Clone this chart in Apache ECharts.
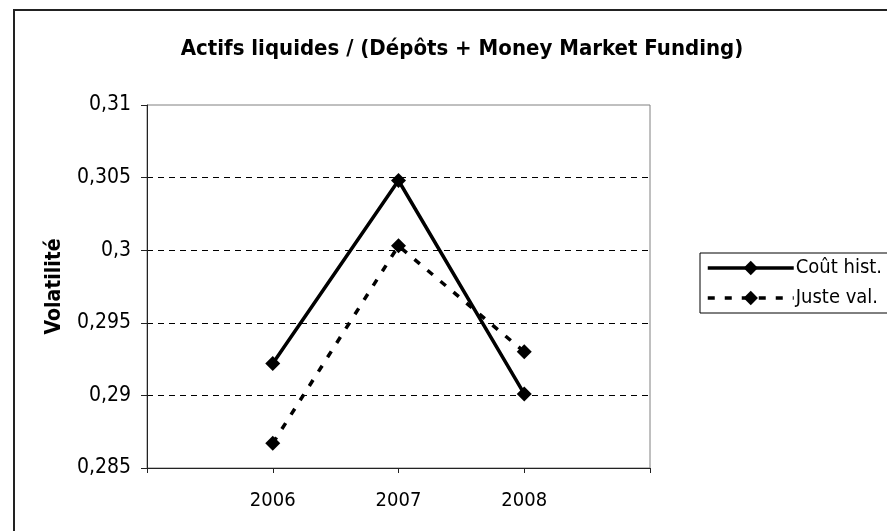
<!DOCTYPE html>
<html>
<head>
<meta charset="utf-8">
<script src="https://cdn.jsdelivr.net/npm/echarts@6/dist/echarts.min.js"></script>
<style>
  html, body { margin: 0; padding: 0; background: #fff; }
  #chart { width: 887px; height: 531px; }
</style>
</head>
<body>
<div id="chart"></div>
<script>
// données
const years = [2006, 2007, 2008]
const coutHist = [0.2922, 0.3048, 0.2901]
const justeVal = [0.2867, 0.3003, 0.2930]
const yTicks = [0.285, 0.29, 0.295, 0.3, 0.305, 0.31]

const FONT = '"DejaVu Sans Condensed", "DejaVu Sans", sans-serif'

const chart = echarts.init(document.getElementById('chart'))

function pairs(vals) {
  return years.map((y, i) => [y, vals[i]])
}

// virgule décimale
function fmtFr(v) {
  return String(+v.toFixed(4)).replace('.', ',')
}

const option = {
  animation: false,
  backgroundColor: '#fff',
  textStyle: { fontFamily: FONT, color: '#000' },
  title: {
    text: 'Actifs liquides / (Dépôts + Money Market Funding)',
    left: 457,
    textAlign: 'center',
    top: 33,
    textStyle: { fontFamily: FONT, fontSize: 22, fontWeight: 'bold', color: '#000' }
  },
  graphic: [
    {
      type: 'rect',
      shape: { x: 14, y: 10, width: 900, height: 600 },
      style: { fill: 'none', stroke: '#222', lineWidth: 2 },
      silent: true
    }
  ],
  legend: {
    orient: 'vertical',
    left: 700,
    top: 253,
    itemWidth: 86,
    itemHeight: 18,
    itemGap: 10,
    padding: [5, 30, 5, 6],
    borderColor: '#000',
    borderWidth: 1,
    lineStyle: { width: 3.5 },
    textStyle: { fontFamily: FONT, fontSize: 20, color: '#000', padding: [0, 0, 0, -3] },
    data: ['Coût hist.', 'Juste val.']
  },
  grid: {
    left: 147,
    right: 237,
    top: 105,
    bottom: 63,
    show: true,
    borderColor: '#808080',
    borderWidth: 1
  },
  xAxis: {
    type: 'value',
    min: 2005,
    max: 2009,
    interval: 1,
    axisLine: { show: true, onZero: false, lineStyle: { color: '#222', width: 1 } },
    axisTick: { show: true, length: 5, lineStyle: { color: '#222' } },
    axisLabel: {
      margin: 23,
      fontSize: 20,
      color: '#000',
      fontFamily: FONT,
      formatter: v => (years.indexOf(v) >= 0 ? String(v) : '')
    },
    splitLine: { show: false }
  },
  yAxis: {
    type: 'value',
    min: yTicks[0],
    max: yTicks[yTicks.length - 1],
    interval: 0.005,
    name: 'Volatilité',
    nameLocation: 'middle',
    nameGap: 82,
    nameRotate: 90,
    nameTextStyle: { fontFamily: FONT, fontSize: 21, fontWeight: 'bold', color: '#000' },
    axisLine: { show: true, lineStyle: { color: '#222', width: 1 } },
    axisTick: { show: true, length: 6, lineStyle: { color: '#222' } },
    axisLabel: {
      margin: 16,
      fontSize: 21,
      color: '#000',
      fontFamily: FONT,
      formatter: fmtFr
    },
    splitLine: {
      show: true,
      lineStyle: {
        color: ['transparent', '#000', '#000', '#000', '#000', 'transparent'],
        type: [6, 5],
        width: 1
      }
    }
  },
  series: [
    {
      name: 'Coût hist.',
      type: 'line',
      data: pairs(coutHist),
      symbol: 'diamond',
      symbolSize: 15,
      itemStyle: { color: '#000' },
      lineStyle: { color: '#000', width: 3.5 }
    },
    {
      name: 'Juste val.',
      type: 'line',
      data: pairs(justeVal),
      symbol: 'diamond',
      symbolSize: 15,
      itemStyle: { color: '#000' },
      lineStyle: { color: '#000', width: 3.5, type: [7, 10] }
    }
  ]
}

chart.setOption(option)
</script>
</body>
</html>
